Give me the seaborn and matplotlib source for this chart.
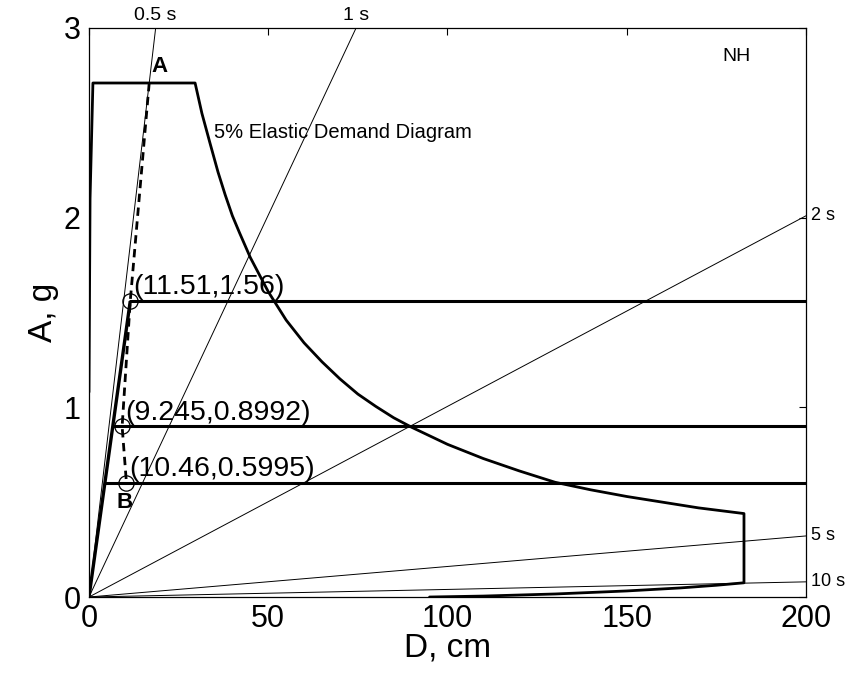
import matplotlib
matplotlib.use("Agg")
import matplotlib.pyplot as plt
import seaborn as sns
import pandas as pd

# ---------------- data ----------------
# 5% elastic demand diagram (ADRS)
demand_D = [0.0, 0.3, 1.1, 29.6, 31.5, 33.8, 36, 38, 40, 42, 45, 50, 55, 60,
            65, 70, 75, 80, 85, 90, 100, 110, 120, 130, 140, 150, 160, 170,
            182.7, 182.7, 175, 165, 150, 130, 110, 95]
demand_A = [1.08, 2.1, 2.71, 2.71, 2.55, 2.39, 2.24, 2.12, 2.01, 1.92, 1.79,
            1.61, 1.46, 1.34, 1.24, 1.15, 1.07, 1.005, 0.945, 0.895, 0.805,
            0.73, 0.665, 0.605, 0.565, 0.53, 0.5, 0.47, 0.44, 0.075, 0.062,
            0.048, 0.032, 0.016, 0.005, 0.0]

# bilinear capacity curves
yield_A = [1.56, 0.8992, 0.5995]
yield_D = [11.51, 6.64, 4.42]
cap_end_D = 200

# performance points (dashed path A -> B)
perf_D = [16.8, 11.51, 9.245, 10.46]
perf_A = [2.71, 1.56, 0.8992, 0.5995]
point_D = [11.51, 9.245, 10.46]
point_A = [1.56, 0.8992, 0.5995]
point_labels = ["(11.51,1.56)", "(9.245,0.8992)", "(10.46,0.5995)"]

# constant-period radial lines (end points at the plot border)
period_labels = ["0.5 s", "1 s", "2 s", "5 s", "10 s"]
period_end_D = [18.6, 74.5, 200, 200, 200]
period_end_A = [3.0, 3.0, 2.01, 0.322, 0.080]

x_ticks = [0, 50, 100, 150, 200]
y_ticks = [0, 1, 2, 3]

# ---------------- figure ----------------
sns.set_theme(style="white")
plt.rcParams["font.family"] = ["Liberation Sans", "DejaVu Sans"]
plt.rcParams["text.color"] = "black"
plt.rcParams["axes.labelcolor"] = "black"

fig = plt.figure(figsize=(8.58, 6.73), dpi=100)
ax = fig.add_axes([0.1037, 0.1129, 0.8357, 0.8455])

# period lines
for lab, d, a in zip(period_labels, period_end_D, period_end_A):
    df = pd.DataFrame({"D": [0, d], "A": [0, a]})
    sns.lineplot(data=df, x="D", y="A", ax=ax, color="black", lw=0.7,
                 sort=False, estimator=None)
    if a >= 3.0:
        ax.text(d, 3.02, lab, ha="center", va="bottom", fontsize=14)
    else:
        ax.text(201.5, a, lab, ha="left", va="center", fontsize=13,
                clip_on=False)

# demand curve
dem = pd.DataFrame({"D": demand_D, "A": demand_A})
sns.lineplot(data=dem, x="D", y="A", ax=ax, color="black", lw=2.0,
             sort=False, estimator=None)

# capacity curves
ax.plot([0, yield_D[0]], [0, yield_A[0]], color="black", lw=2.4,
        solid_capstyle="butt")
for ya, yd in zip(yield_A, yield_D):
    df = pd.DataFrame({"D": [yd, cap_end_D], "A": [ya, ya]})
    sns.lineplot(data=df, x="D", y="A", ax=ax, color="black", lw=2.2,
                 sort=False, estimator=None)

# dashed performance path
perf = pd.DataFrame({"D": perf_D, "A": perf_A})
sns.lineplot(data=perf, x="D", y="A", ax=ax, color="black", lw=2.0,
             sort=False, estimator=None, linestyle=(0, (3.0, 2.0)))

# points + labels
ax.plot(point_D, point_A, linestyle="none", marker="o", markersize=11,
        markerfacecolor="none", markeredgecolor="black", markeredgewidth=0.9)
for d, a, lab in zip(point_D, point_A, point_labels):
    ax.text(d + 0.9, a + 0.005, lab, ha="left", va="bottom", fontsize=20.5)

ax.text(17.5, 2.74, "A", fontsize=16, fontweight="bold", ha="left", va="bottom")
ax.text(10.0, 0.50, "B", fontsize=16, fontweight="bold", ha="center",
        va="center")
ax.text(35.0, 2.45, "5% Elastic Demand Diagram", fontsize=14.5, ha="left",
        va="center")
ax.text(180.5, 2.85, "NH", fontsize=14, ha="center", va="center")

# axes formatting
ax.set_xlim(0, 200)
ax.set_ylim(0, 3)
ax.set_xticks(x_ticks)
ax.set_yticks(y_ticks)
ax.set_xticklabels([str(t) for t in x_ticks])
ax.set_yticklabels([str(t) for t in y_ticks])
ax.tick_params(direction="in", length=5, width=0.8, top=True, right=True,
               labelsize=22, colors="black")
ax.tick_params(axis="x", pad=5)
ax.tick_params(axis="y", pad=6)
for s in ax.spines.values():
    s.set_color("black")
    s.set_linewidth(0.9)
ax.set_xlabel("D, cm", fontsize=24, labelpad=-1)
ax.set_ylabel("A, g", fontsize=24, labelpad=3)

fig.savefig("out.png", dpi=100)
